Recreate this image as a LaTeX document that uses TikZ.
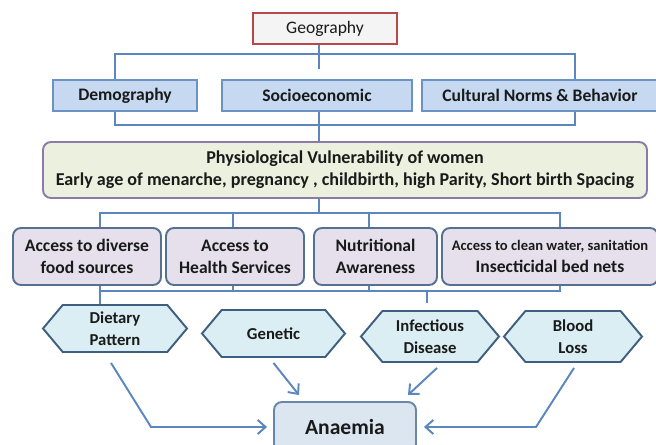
\documentclass[tikz,border=0pt]{standalone}
\usepackage{fontspec}
\setmainfont{Carlito}
\usetikzlibrary{positioning,shapes.symbols,arrows.meta,calc}

\definecolor{linkblue}{HTML}{5B86BE}
\definecolor{geoedge}{HTML}{B8474A}
\definecolor{geofill}{HTML}{F4F4F4}
\definecolor{tierfill}{HTML}{C6D9F1}
\definecolor{tieredge}{HTML}{6A92C4}
\definecolor{physfill}{HTML}{EBF1DE}
\definecolor{physedge}{HTML}{8C7BA6}
\definecolor{accfill}{HTML}{E5E0EC}
\definecolor{accedge}{HTML}{56708F}
\definecolor{hexfill}{HTML}{DAEEF3}
\definecolor{hexedge}{HTML}{3F5F80}
\definecolor{anfill}{HTML}{DCE6F1}
\definecolor{anedge}{HTML}{6A86AA}
\definecolor{inktext}{HTML}{1A1A1A}

\newdimen\pxu
\pxu=0.02cm

\tikzset{
  link/.style={draw=linkblue, line width=1.1pt},
  arr/.style={link, -{Straight Barb[length=4.5pt,width=8pt]}},
  box/.style={draw, line width=1.1pt, inner sep=0pt, align=center, text=inktext,
    font=\bfseries\fontsize{10}{12.5}\selectfont},
  geobox/.style={box, fill=geofill, draw=geoedge, font=\fontsize{10}{12}\selectfont},
  tier/.style={box, fill=tierfill, draw=tieredge, minimum height=31\pxu},
  physbox/.style={box, fill=physfill, draw=physedge, rounded corners=8\pxu,
    font=\bfseries\fontsize{10.3}{12.5}\selectfont},
  accbox/.style={box, fill=accfill, draw=accedge, rounded corners=8\pxu,
    minimum height=57\pxu},
  hexbox/.style={box, signal, signal to=west and east, signal pointer angle=100,
    fill=hexfill, draw=hexedge, font=\bfseries\fontsize{9.5}{12.5}\selectfont},
  anbox/.style={box, fill=anfill, draw=anedge, rounded corners=8\pxu,
    font=\bfseries\fontsize{12.3}{15}\selectfont}
}

\begin{document}
\begin{tikzpicture}[x=1\pxu, y=-1\pxu]
\clip (0,0) rectangle (656,445);

% top of the tree
\node[geobox, minimum width=144\pxu, minimum height=31\pxu] (geo) at (325,28.5) {Geography};
\node[tier, minimum width=144\pxu] (dem) at (125,95.5) {Demography};
\node[tier, minimum width=190\pxu] (soc) at (317,95.5) {Socioeconomic};
\node[tier, minimum width=236\pxu] (cul) at (540,95.5) {Cultural Norms \& Behavior};

\coordinate (gstub) at (319,69);
\coordinate (tl) at (115,54);
\coordinate (tr) at (575,54);
\coordinate (bl) at (115,125);
\coordinate (br) at (575,125);
\draw[link] (geo.south -| gstub) -- (gstub);
\draw[link] (dem.north -| tl) -- (tl) -- (tr) -- (cul.north -| tr);
\draw[link] (dem.south -| bl) -- (bl) -- (br) -- (cul.south -| br);

% vulnerability
\node[physbox, minimum width=604\pxu, minimum height=56\pxu] (phys) at (345,170)
  {Physiological Vulnerability of women\\Early age of menarche, pregnancy , childbirth, high Parity, Short birth Spacing};
\draw[link] (soc.south -| gstub) -- (phys.north -| gstub);

% access row
\node[accbox, minimum width=148\pxu] (food) at (87,256.5) {Access to diverse\\food sources};
\node[accbox, minimum width=138\pxu] (health) at (235,256.5) {Access to\\Health Services};
\node[accbox, minimum width=123\pxu] (nutri) at (375.5,256.5) {Nutritional\\Awareness};
\node[accbox, minimum width=216\pxu] (water) at (550,256.5)
  {{\fontsize{8.3}{12.5}\selectfont Access to clean water, sanitation}\\Insecticidal bed nets};

\coordinate (ma) at (100,213);
\coordinate (mb) at (233,213);
\coordinate (mc) at (369,213);
\coordinate (md) at (560,213);
\draw[link] (phys.south -| gstub) -- (gstub |- ma);
\draw[link] (food.north -| ma) -- (ma) -- (md) -- (water.north -| md);
\draw[link] (mb) -- (health.north -| mb);
\draw[link] (mc) -- (nutri.north -| mc);

% causes
\node[hexbox, minimum width=144\pxu, minimum height=47\pxu] (diet) at (115,328.5) {Dietary\\Pattern};
\node[hexbox, minimum width=143\pxu, minimum height=47\pxu] (gen) at (273.5,333.5) {Genetic};
\node[hexbox, minimum width=138\pxu, minimum height=51\pxu] (inf) at (430,336.5) {Infectious\\Disease};
\node[hexbox, minimum width=138\pxu, minimum height=51\pxu] (blood) at (573,336.5) {Blood\\Loss};

\coordinate (ba) at (100,291);
\coordinate (bd) at (560,291);
\coordinate (bstub) at (427,303);
\draw[link] (food.south -| ba) -- (diet.north -| ba);
\draw[link] (ba) -- (bd) -- (water.south -| bd);
\draw[link] (health.south -| mb) -- (mb |- ba);
\draw[link] (nutri.south -| mc) -- (mc |- ba);
\draw[link] (bstub |- ba) -- (bstub);

% anaemia
\node[anbox, minimum width=142\pxu, minimum height=50\pxu] (an) at (345,427) {Anaemia};

\draw[arr] ($(diet.south)+(-4,10)$) -- (151,427) -- ($(an.west)+(-6,0)$);
\draw[arr] ($(gen.south)+(0,5)$) -- ($(an.north)+(-46,-6)$);
\draw[arr] ($(inf.south)+(7,5)$) -- ($(an.north)+(63,-6)$);
\draw[arr] ($(blood.south)+(1,5)$) -- (536,427) -- ($(an.east)+(7,0)$);

\end{tikzpicture}
\end{document}
